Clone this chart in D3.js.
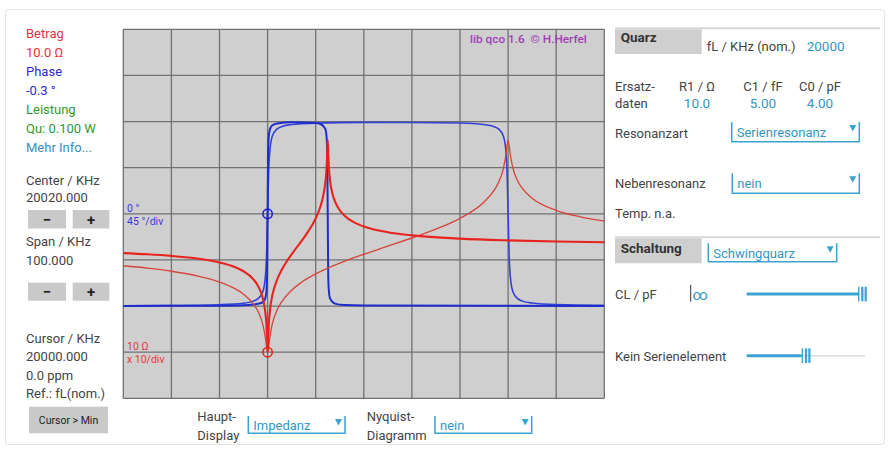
<!DOCTYPE html>
<html>
<head>
<meta charset="utf-8">
<script src="https://cdn.jsdelivr.net/npm/d3@7"></script>
<style>
  body { margin: 0; background: #fff; }
  svg text { font-family: Roboto, "Noto Sans", sans-serif; }
</style>
</head>
<body>
<svg id="chart" width="891" height="450"></svg>
<script>
// frequency window (kHz)
var fStart = 19970, fEnd = 20070;
var fCursor = 20000;

// |Z| in Ohm, crystal R1=10, C1=5fF, C0=4pF
var betragA = [[19970,1404],[19975,1326],[19980,1224],[19985,1085],[19990,884],[19993,714],[19995,568],
  [19997,385],[19998,274],[19999,147],[19999.5,77],[19999.75,41],[19999.9,19],[20000,10],[20000.1,19],
  [20000.25,41],[20000.5,83],[20001,173],[20002,378],[20003,627],[20004,937],[20006,1837],[20008,3537],
  [20010,7976],[20011,14630],[20011.5,22850],[20012,47130],[20012.2,78830],[20012.4,207600],[20012.5,395600],
  [20012.6,210000],[20012.8,83000],[20013,51060],[20013.5,26710],[20014,18540],[20015,11930],[20016,9092],
  [20018,6512],[20020,5302],[20025,3978],[20030,3410],[20040,2893],[20050,2652],[20060,2511],[20070,2421]];

// |Z| in Ohm, second (thin) trace
var betragB = [[19970,746],[19975,663],[19980,568],[19985,459],[19990,332],[19993,245],[19995,181],
  [19997,112],[19998,77],[19999,40],[19999.5,22],[20000,10],[20000.5,22],[20001,42],[20002,83],[20003,127],
  [20005,221],[20007,324],[20010,497],[20015,853],[20020,1327],[20025,1991],[20030,2987],[20035,4649],
  [20040,7976],[20045,17970],[20047,31260],[20048,47370],[20049,94600],[20049.5,175700],[20050,395600],
  [20050.5,179200],[20051,98430],[20052,51310],[20053,35130],[20055,21840],[20060,11930],[20065,8616],
  [20070,6959]];

// phase in degrees
var phaseA = [[19970,-89.9],[19990,-89.6],[19995,-89.2],[19997,-88.5],[19998,-87.8],[19999,-86.2],
  [19999.5,-82.8],[19999.8,-72.5],[19999.9,-57.8],[20000,0],[20000.1,57.8],[20000.2,72.5],[20000.5,82.8],
  [20001,86.4],[20002,88.2],[20005,89.2],[20010,88.6],[20011,87.6],[20012,82.8],[20012.3,72.5],
  [20012.4,57.8],[20012.5,0],[20012.6,-57.8],[20012.7,-72.5],[20013,-82.8],[20014,-87.6],[20016,-89],
  [20020,-89.5],[20070,-89.9]];

var phaseB = [[19970,-89.8],[19980,-89.5],[19990,-88.7],[19995,-87.3],[19997,-85.2],[19998,-82.8],
  [19999,-76],[19999.5,-63.3],[19999.8,-38.5],[20000,0],[20000.2,38.5],[20000.5,63.3],[20001,76],
  [20002,82.8],[20003,85.2],[20005,87.1],[20010,88.5],[20020,89.2],[20030,89],[20040,88.6],[20045,87.1],
  [20047,85.2],[20048,82.8],[20049,76],[20049.5,63.3],[20049.8,38.5],[20050,0],[20050.2,-38.5],
  [20050.5,-63.3],[20051,-76],[20052,-82.8],[20053,-85.2],[20055,-87.1],[20060,-88.6],[20070,-89.3]];

// panel texts
var infoLines = [["Betrag","#e5333b"],["10.0 \u03A9","#e5333b"],["Phase","#2b2bd0"],["-0.3 \u00B0","#2b2bd0"],
  ["Leistung","#2e9a2e"],["Qu: 0.100 W","#2e9a2e"],["Mehr Info...","#3a8db8"]];
var ersatzHeads = ["R1 / \u03A9", "C1 / fF", "C0 / pF"];
var ersatzValues = ["10.0", "5.00", "4.00"];

var svg = d3.select("#chart");
var accent = "#3ba3cf", labelCol = "#444";

// outer card
svg.append("rect").attr("x", 5.5).attr("y", 9.5).attr("width", 879).attr("height", 435)
  .attr("rx", 3).attr("fill", "none").attr("stroke", "#e3e3e3");

// set the ranges
var pLeft = 123.3, pRight = 604.3, pTop = 29.3, pBottom = 398.3;
var x = d3.scaleLinear().domain([fStart, fEnd]).range([pLeft, pRight]);
var yMag = d3.scaleLog().domain([1, 1e8]).range([pBottom, pTop]);
var yPh = d3.scaleLinear().domain([-180, 180]).range([pBottom, pTop]);

// plot background + grid
svg.append("rect").attr("x", pLeft).attr("y", pTop).attr("width", pRight - pLeft).attr("height", pBottom - pTop)
  .attr("fill", "#cfcfcf");
svg.selectAll("line.vgrid").data(x.ticks(10)).enter().append("line")
  .attr("x1", function(d) { return x(d); }).attr("x2", function(d) { return x(d); })
  .attr("y1", pTop).attr("y2", pBottom)
  .attr("stroke", "#717171").attr("stroke-width", 1.3);
svg.selectAll("line.hgrid").data(d3.range(-180, 181, 45)).enter().append("line")
  .attr("y1", function(d) { return yPh(d); }).attr("y2", function(d) { return yPh(d); })
  .attr("x1", pLeft).attr("x2", pRight)
  .attr("stroke", "#717171").attr("stroke-width", 1.3);

svg.append("clipPath").attr("id", "plotclip").append("rect")
  .attr("x", pLeft).attr("y", pTop).attr("width", pRight - pLeft).attr("height", pBottom - pTop);
var plot = svg.append("g").attr("clip-path", "url(#plotclip)");

var magLine = d3.line().x(function(d) { return x(d[0]); }).y(function(d) { return yMag(d[1]); })
  .curve(d3.curveMonotoneX);
var phLine = d3.line().x(function(d) { return x(d[0]); }).y(function(d) { return yPh(d[1]); })
  .curve(d3.curveMonotoneX);

// phase traces
plot.append("path").attr("d", phLine(phaseB)).attr("fill", "none").attr("stroke", "#3342d4").attr("stroke-width", 1.6);
plot.append("path").attr("d", phLine(phaseA)).attr("fill", "none").attr("stroke", "#1f2ccc").attr("stroke-width", 2);
// magnitude traces
plot.append("path").attr("d", magLine(betragB)).attr("fill", "none").attr("stroke", "#d6453d").attr("stroke-width", 1.35);
plot.append("path").attr("d", magLine(betragA)).attr("fill", "none").attr("stroke", "#e8221c").attr("stroke-width", 2.1);

// cursor markers
svg.append("circle").attr("cx", x(fCursor)).attr("cy", yPh(0)).attr("r", 4.7)
  .attr("fill", "none").attr("stroke", "#2222d0").attr("stroke-width", 1.6);
svg.append("circle").attr("cx", x(fCursor)).attr("cy", yMag(10)).attr("r", 4.7)
  .attr("fill", "none").attr("stroke", "#e8221c").attr("stroke-width", 1.6);

// scale labels inside the plot
function txt(t, px, py, opts) {
  opts = opts || {};
  return svg.append("text").attr("x", px).attr("y", py).text(t)
    .attr("font-size", opts.size || 13).attr("fill", opts.color || labelCol)
    .attr("font-weight", opts.weight || "normal")
    .attr("text-anchor", opts.anchor || "start");
}
txt("0 \u00B0", 127, 212, {size: 10.5, color: "#3a3ad6"});
txt("45 \u00B0/div", 127, 224.5, {size: 10.5, color: "#3a3ad6"});
txt("10 \u03A9", 127, 349.5, {size: 10.5, color: "#e33a3a"});
txt("x 10/div", 127, 363, {size: 10.5, color: "#e33a3a"});
txt("lib qco 1.6\u00A0\u00A0\u00A9 H.Herfel", 470, 43, {size: 11.8, color: "#a23db6", weight: 500});

// left panel
infoLines.forEach(function(l, i) { txt(l[0], 26, 37.5 + i * 19, {color: l[1]}); });
txt("Center / KHz", 26, 184.5);
txt("20020.000", 26, 202);
txt("Span / KHz", 26, 246);
txt("100.000", 26, 264.5);
txt("Cursor / KHz", 26, 343);
txt("20000.000", 26, 361);
txt("0.0 ppm", 26, 379.5);
txt("Ref.: fL(nom.)", 26, 397.5);

function button(bx, by, bw, bh, label, size) {
  svg.append("rect").attr("x", bx).attr("y", by).attr("width", bw).attr("height", bh).attr("fill", "#c9c9c9");
  txt(label, bx + bw / 2, by + bh / 2 + size * 0.36, {size: size, anchor: "middle", color: "#222", weight: size > 12 ? "bold" : "normal"});
}
button(28, 210, 38, 18.5, "\u2212", 15);
button(72.7, 210, 36.6, 18.5, "+", 15);
button(28, 282.7, 38, 18, "\u2212", 15);
button(72.7, 282.7, 36.6, 18, "+", 15);
button(29, 406.7, 79, 26.6, "Cursor > Min", 10.5);

// dropdown widget
function dropdown(x0, x1, y0, y1, label) {
  var g = svg.append("g").attr("stroke", accent).attr("stroke-width", 1.5).attr("fill", "none");
  g.append("path").attr("d", "M" + x0 + "," + y0 + "V" + y1 + "H" + x1 + "V" + y0);
  svg.append("path").attr("d", "M" + (x1 - 10) + "," + (y0 + 3) + "h7l-3.5,6.5z").attr("fill", accent);
  txt(label, x0 + 5, (y0 + y1) / 2 + 5, {color: "#3496c2"});
}

// bottom controls
txt("Haupt-", 197.3, 421);
txt("Display", 197.3, 440);
dropdown(248.3, 345, 416, 433.3, "Impedanz");
txt("Nyquist-", 366.7, 421);
txt("Diagramm", 366.7, 440);
dropdown(435, 531.7, 416, 433.3, "nein");

// right panel: Quarz
svg.append("line").attr("x1", 615).attr("x2", 880).attr("y1", 28.3).attr("y2", 28.3).attr("stroke", "#d8d8d8").attr("stroke-width", 2);
svg.append("rect").attr("x", 615).attr("y", 29.3).attr("width", 86.7).attr("height", 24.7).attr("fill", "#cfcfcf");
txt("Quarz", 620.7, 42, {size: 13.5, weight: "bold", color: "#333"});
txt("fL / KHz (nom.)", 706.7, 51);
txt("20000", 806.7, 51, {size: 13.5, color: "#3496c2"});
txt("Ersatz-", 615, 90.5);
txt("daten", 615, 107.5);
var colX = [697, 763, 820];
ersatzHeads.forEach(function(h, i) { txt(h, colX[i], 90.5, {anchor: "middle"}); });
ersatzValues.forEach(function(v, i) { txt(v, colX[i], 107.5, {anchor: "middle", size: 13.5, color: "#3496c2"}); });
txt("Resonanzart", 615, 138);
dropdown(731.7, 859.3, 122, 141.7, "Serienresonanz");
txt("Nebenresonanz", 615, 187.5);
dropdown(732.3, 859.3, 173.3, 193.3, "nein");
txt("Temp. n.a.", 615, 218);

// right panel: Schaltung
svg.append("line").attr("x1", 615).attr("x2", 880).attr("y1", 237.3).attr("y2", 237.3).attr("stroke", "#d8d8d8").attr("stroke-width", 2);
svg.append("rect").attr("x", 615).attr("y", 238.3).attr("width", 86.7).attr("height", 25).attr("fill", "#cfcfcf");
txt("Schaltung", 620.7, 253, {size: 13.5, weight: "bold", color: "#333"});
dropdown(708.3, 836.7, 243.3, 261.7, "Schwingquarz");

txt("CL / pF", 615, 298.5);
svg.append("line").attr("x1", 690.7).attr("x2", 690.7).attr("y1", 285).attr("y2", 301.7).attr("stroke", "#333").attr("stroke-width", 1);
txt("\u221E", 692.5, 299.5, {size: 15, color: "#3496c2"});

function slider(x0, xThumb, x1, sy) {
  svg.append("line").attr("x1", xThumb).attr("x2", x1).attr("y1", sy).attr("y2", sy).attr("stroke", "#dcdcdc").attr("stroke-width", 1.5);
  svg.append("line").attr("x1", x0).attr("x2", xThumb).attr("y1", sy).attr("y2", sy).attr("stroke", accent).attr("stroke-width", 3);
  [[0, 1.4], [3.2, 2.2], [6.6, 2.2]].forEach(function(b) {
    svg.append("rect").attr("x", xThumb + b[0]).attr("y", sy - 7.3).attr("width", b[1]).attr("height", 14.6).attr("fill", accent);
  });
}
slider(746.7, 858, 866, 294);
txt("Kein Serienelement", 615, 361);
slider(746.7, 801.7, 865, 355.7);
</script>
</body>
</html>
